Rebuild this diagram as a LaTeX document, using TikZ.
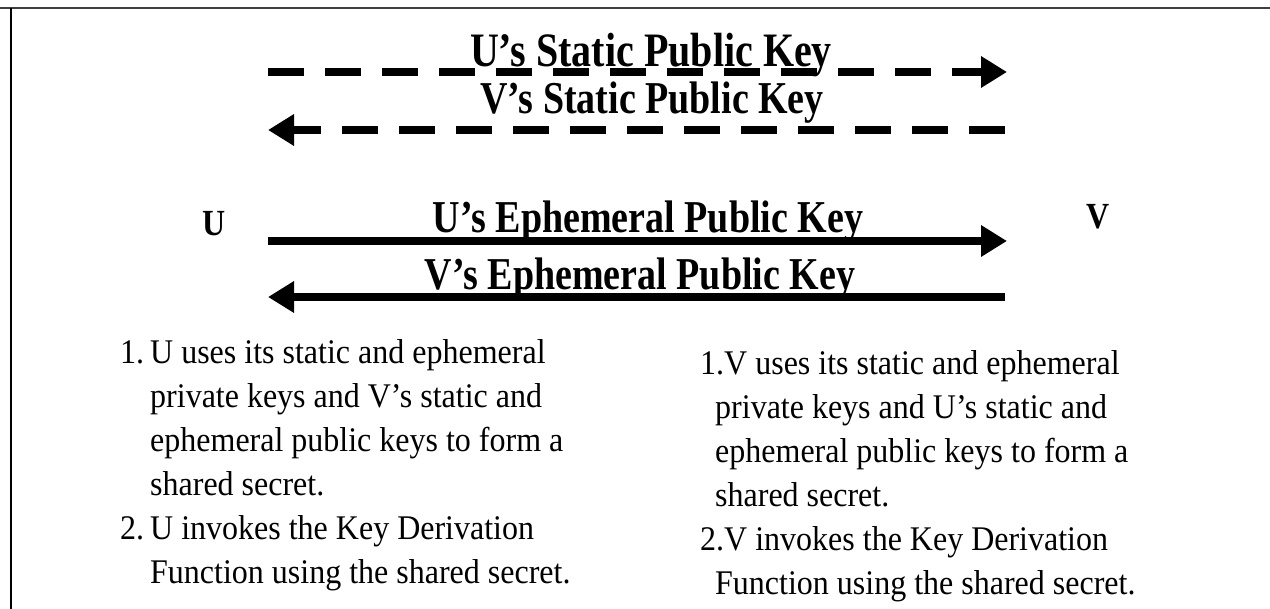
\documentclass[tikz,border=0pt]{standalone}
\usepackage{fontspec}
\setmainfont{Liberation Serif}
\usetikzlibrary{arrows.meta}
\newcommand{\tall}[2]{\scalebox{1}[#1]{#2}}
\begin{document}
\begin{tikzpicture}[x=1pt,y=-1pt,
  keyarrow/.style={line width=7.5pt,-{Triangle[length=26pt,width=30pt]}},
  dasharrow/.style={keyarrow,line width=8pt,dash pattern=on 36pt off 21pt},
  title/.style={font=\fontsize{38}{40}\selectfont\bfseries,inner sep=0pt,anchor=base},
  party/.style={font=\fontsize{32}{34}\selectfont\bfseries,inner sep=0pt,anchor=base},
  listtext/.style={font=\fontsize{32}{40.7}\selectfont,inner sep=0pt,anchor=north west,align=left}]
\useasboundingbox (0,0) rectangle (1270,609);
\draw[line width=2.5pt,black!75] (0,8) -- (1270,8);
\draw[line width=2.5pt] (11,8) -- (11,609);
% arrows
\coordinate (a1s) at (268,72);  \coordinate (a1e) at (1007,72);
\coordinate (a2s) at (1005,130); \coordinate (a2e) at (268,130);
\coordinate (a3s) at (268,241); \coordinate (a3e) at (1007,241);
\coordinate (a4s) at (1005,297); \coordinate (a4e) at (268,297);
\draw[dasharrow] (a1s) -- (a1e);
\draw[dasharrow] (a2s) -- (a2e);
\draw[keyarrow] (a3s) -- (a3e);
\draw[keyarrow] (a4s) -- (a4e);
\node[title,font=\fontsize{40}{42}\selectfont\bfseries] (t1) at (651,67) {\tall{1.2}{U’s Static Public Key}};
\node[title] (t2) at (652,114) {\tall{1.2}{V’s Static Public Key}};
\node[title] (t3) at (648,233) {\tall{1.2}{U’s Ephemeral Public Key}};
\node[title] (t4) at (640,290) {\tall{1.2}{V’s Ephemeral Public Key}};
\node[party] (U) at (214,236) {\tall{1.15}{U}};
\node[party] (V) at (1098,229) {\tall{1.15}{V}};
% lists
\node[listtext] (L) at (120,333) {\tall{1.08}{%
\begin{tabular}{@{}l@{\hspace{6pt}}l@{}}
1. & U uses its static and ephemeral\\
   & private keys and V’s static and\\
   & ephemeral public keys to form a\\
   & shared secret.\\
2. & U invokes the Key Derivation\\
   & Function using the shared secret.
\end{tabular}}};
\node[listtext] (R) at (700,344) {\tall{1.08}{%
\begin{tabular}{@{}l@{}}
1.V uses its static and ephemeral\\
\hspace{15pt}private keys and U’s static and\\
\hspace{15pt}ephemeral public keys to form a\\
\hspace{15pt}shared secret.\\
2.V invokes the Key Derivation\\
\hspace{15pt}Function using the shared secret.
\end{tabular}}};
\end{tikzpicture}
\end{document}
